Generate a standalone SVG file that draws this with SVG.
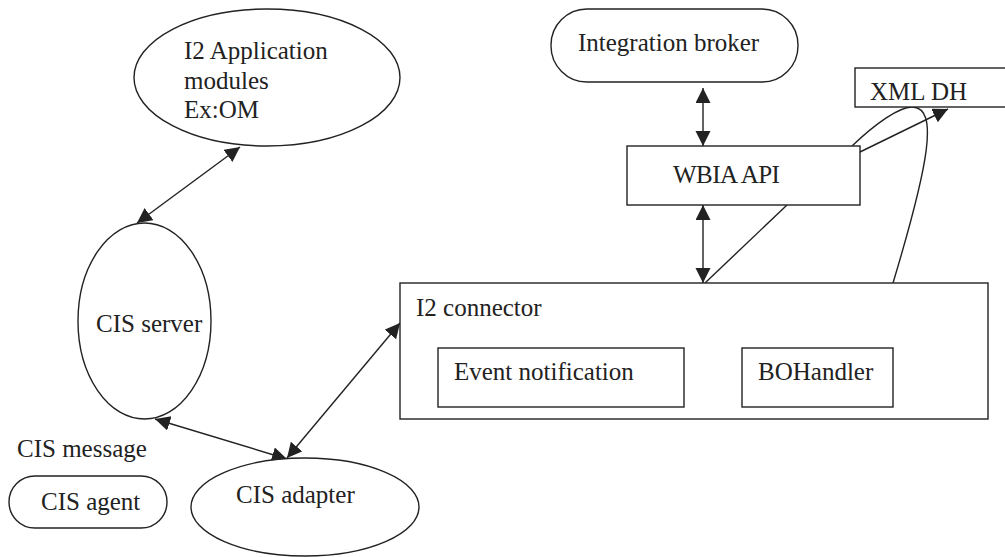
<svg xmlns="http://www.w3.org/2000/svg" width="1005" height="557" viewBox="0 0 1005 557">
<style>
.s{fill:#fff;stroke:#222;stroke-width:1.4}
.c{fill:none;stroke:#222;stroke-width:1.4}
.t{font-family:"Liberation Serif","Times New Roman",serif;font-size:25px;fill:#222}
</style>
<defs>
<marker id="ah" markerUnits="userSpaceOnUse" markerWidth="16" markerHeight="16" refX="15" refY="7.5" orient="auto-start-reverse" viewBox="0 0 16 16">
<path d="M0,0 L15,7.5 L0,15 z" fill="#222"/>
</marker>
</defs>
<rect width="1005" height="557" fill="#fff"/>
<g id="connectors">
<line class="c" x1="137" y1="223" x2="240" y2="147" marker-start="url(#ah)" marker-end="url(#ah)"/>
<line class="c" x1="155" y1="419" x2="287" y2="459" marker-start="url(#ah)" marker-end="url(#ah)"/>
<line class="c" x1="287" y1="458" x2="400" y2="323" marker-start="url(#ah)" marker-end="url(#ah)"/>
<line class="c" x1="703" y1="88" x2="703" y2="146" marker-start="url(#ah)" marker-end="url(#ah)"/>
<line class="c" x1="703" y1="205" x2="703" y2="283" marker-start="url(#ah)" marker-end="url(#ah)"/>
<line class="c" x1="787" y1="205" x2="705" y2="283"/>
<line class="c" x1="860" y1="152" x2="948" y2="109" marker-end="url(#ah)"/>
<path class="c" d="M852,146 C875,124 900,106 913,107 C938,109 930,160 893,283"/>
</g>
<g id="i2app">
<ellipse class="s" cx="267" cy="77.5" rx="133" ry="68.5"/>
<text class="t" x="184" y="59">I2 Application</text>
<text class="t" x="184" y="89">modules</text>
<text class="t" x="184" y="118">Ex:OM</text>
</g>
<g id="broker">
<rect class="s" x="551" y="9" width="247" height="73" rx="36"/>
<text class="t" x="578" y="51">Integration broker</text>
</g>
<g id="xmldh">
<rect class="s" x="855" y="68" width="160" height="39"/>
<text class="t" x="870" y="100">XML DH</text>
</g>
<g id="wbia">
<rect class="s" x="627" y="146" width="233" height="59"/>
<text class="t" x="673" y="183" letter-spacing="-0.5">WBIA API</text>
</g>
<g id="i2connector">
<rect class="s" x="400" y="283" width="588" height="136"/>
<text class="t" x="416" y="316">I2 connector</text>
</g>
<g id="event">
<rect class="s" x="438" y="348" width="246" height="59"/>
<text class="t" x="454" y="380">Event notification</text>
</g>
<g id="bohandler">
<rect class="s" x="742" y="348" width="151" height="59"/>
<text class="t" x="758" y="380">BOHandler</text>
</g>
<g id="cisserver">
<ellipse class="s" cx="144.5" cy="321" rx="66.5" ry="98"/>
<text class="t" x="96" y="332">CIS server</text>
</g>
<g id="cismessage">
<text class="t" x="17" y="457">CIS message</text>
</g>
<g id="cisagent">
<rect class="s" x="9" y="476" width="158" height="52" rx="26"/>
<text class="t" x="41" y="510">CIS agent</text>
</g>
<g id="cisadapter">
<ellipse class="s" cx="305" cy="507" rx="114" ry="49"/>
<text class="t" x="236" y="503">CIS adapter</text>
</g>
</svg>
